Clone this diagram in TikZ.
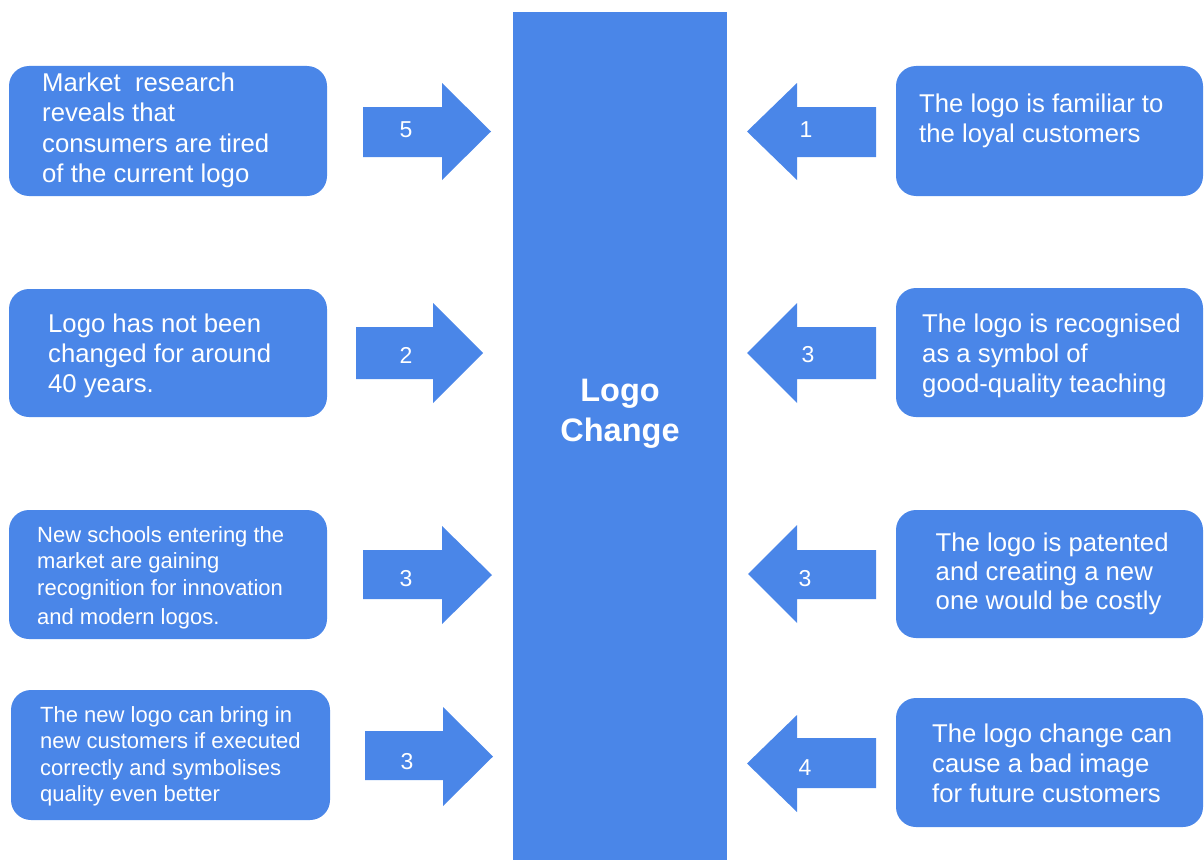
\documentclass[tikz,border=0pt]{standalone}
\usepackage{fontspec}
\setmainfont{Liberation Sans}
\definecolor{lblue}{RGB}{74,134,232}
\tikzset{
  card/.style={fill=lblue, rounded corners=20pt},
  bigtxt/.style={text=white, font=\fontsize{25.7}{30.3}\selectfont, align=left, anchor=north west, inner sep=0pt},
  smalltxt/.style={text=white, font=\fontsize{22}{26.4}\selectfont, align=left, anchor=north west, inner sep=0pt},
  num/.style={text=white, font=\fontsize{23}{26}\selectfont, inner sep=0pt},
  blockarrow/.style={fill=lblue},
}
\begin{document}
\begin{tikzpicture}[x=1pt,y=-1pt]
\useasboundingbox (0,0) rectangle (1204,859);

% central column
\fill[lblue] (513,12) rectangle (727,860);
\node[text=white, font=\bfseries\fontsize{32.5}{40}\selectfont, align=center, anchor=north, inner sep=0pt] (title) at (620,379) {Logo\\Change};

% left cards
\fill[card] (9,66) rectangle (327,196);
\node[bigtxt] (l1) at (42,72.6) {Market\ \ research\\reveals that\\consumers are tired\\of the current logo};
\fill[card] (9,289) rectangle (327,417);
\node[bigtxt, font=\fontsize{25.7}{30}\selectfont] (l2) at (48,313.6) {Logo has not been\\changed for around\\40 years.};
\fill[card] (9,510) rectangle (327,639);
\node[smalltxt, font=\fontsize{22}{26.3}\selectfont] (l3) at (37,526.3) {New schools entering the\\market are gaining\\recognition for innovation\\[3.2pt]and modern logos.};
\fill[card] (11,690) rectangle (330,820);
\node[smalltxt, font=\fontsize{22}{26.5}\selectfont] (l4) at (40,706) {The new logo can bring in\\new customers if executed\\correctly and symbolises\\quality even better};

% right cards
\fill[card] (896,66) rectangle (1203,196);
\node[bigtxt, font=\fontsize{25.7}{30}\selectfont] (r1) at (919,93.3) {The logo is familiar to\\the loyal customers};
\fill[card] (896,288) rectangle (1203,417);
\node[bigtxt, font=\fontsize{25.7}{30}\selectfont] (r2) at (922,313.6) {The logo is recognised\\as a symbol of\\good-quality teaching};
\fill[card] (896,510) rectangle (1203,638);
\node[bigtxt, font=\fontsize{25.7}{29}\selectfont] (r3) at (935.5,532.6) {The logo is patented\\and creating a new\\one would be costly};
\fill[card] (896,698) rectangle (1203,827);
\node[bigtxt, font=\fontsize{25.7}{30}\selectfont] (r4) at (932,723.6) {The logo change can\\cause a bad image\\for future customers};

% block arrows pointing right, towards the column
\fill[blockarrow] (363,107) -- (442,107) -- (442,83) -- (491,131.5) -- (442,180) -- (442,157) -- (363,157) -- cycle;
\fill[blockarrow] (356,327) -- (433,327) -- (433,303) -- (483,353) -- (433,403) -- (433,379) -- (356,379) -- cycle;
\fill[blockarrow] (363,550) -- (442,550) -- (442,526) -- (492,575) -- (442,624) -- (442,599) -- (363,599) -- cycle;
\fill[blockarrow] (365,731) -- (443,731) -- (443,707) -- (493,756.5) -- (443,806) -- (443,780) -- (365,780) -- cycle;

% block arrows pointing left, towards the column
\fill[blockarrow] (876,107) -- (797,107) -- (797,83) -- (747,131.5) -- (797,180) -- (797,157) -- (876,157) -- cycle;
\fill[blockarrow] (876,327) -- (797,327) -- (797,303) -- (747,353) -- (797,403) -- (797,379) -- (876,379) -- cycle;
\fill[blockarrow] (876,550) -- (797,550) -- (797,525) -- (748,574) -- (797,623) -- (797,599) -- (876,599) -- cycle;
\fill[blockarrow] (876,738) -- (797,738) -- (797,715) -- (747,763.5) -- (797,812) -- (797,788) -- (876,788) -- cycle;

% weights
\node[num] (n1) at (406,130) {5};
\node[num] (n2) at (406,355) {2};
\node[num] (n3) at (406,579) {3};
\node[num] (n4) at (407,762) {3};
\node[num] (m1) at (806,130) {1};
\node[num] (m2) at (808,355) {3};
\node[num] (m3) at (805,579) {3};
\node[num] (m4) at (805,768) {4};
\end{tikzpicture}
\end{document}
